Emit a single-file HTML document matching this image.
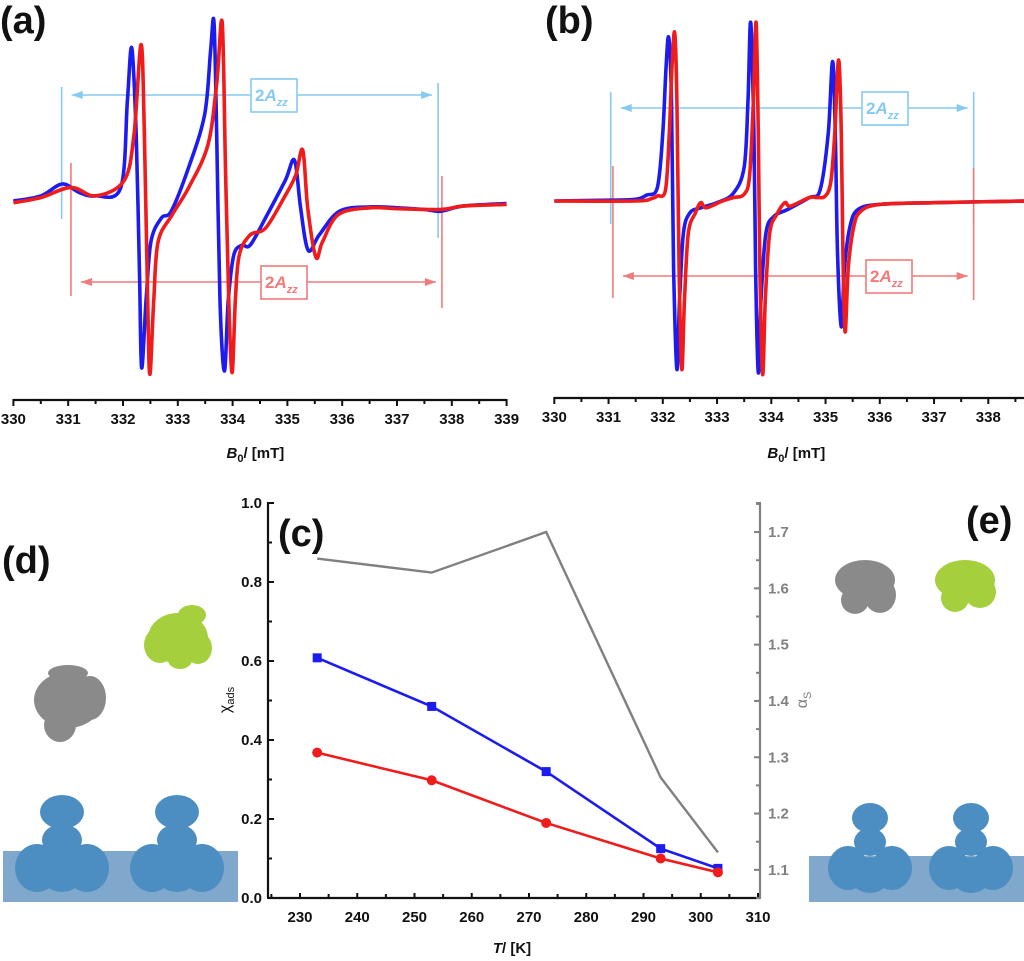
<!DOCTYPE html>
<html><head><meta charset="utf-8">
<style>
html,body{margin:0;padding:0;background:#fff;}
svg{display:block;font-family:"Liberation Sans",Arial,sans-serif;}
.tl{font-size:15px;font-weight:bold;fill:#111;}
.pl{font-size:38px;font-weight:bold;fill:#111;}
</style></head>
<body>
<svg id="fig" width="1024" height="961" viewBox="0 0 1024 961" xmlns="http://www.w3.org/2000/svg">
<g id="panelA"></g>
<g id="panelB"></g>
<g id="panelC"></g>
<g id="panelD">
  <text class="pl" x="2" y="573">(d)</text>
  <g fill="#a5cf3c">
    <ellipse cx="178" cy="638" rx="30" ry="25"/><ellipse cx="160" cy="645" rx="16" ry="18"/><ellipse cx="198" cy="648" rx="14" ry="16"/><ellipse cx="192" cy="615" rx="14" ry="10"/><ellipse cx="180" cy="660" rx="12" ry="9"/>
  </g>
  <g fill="#8a8a8a">
    <ellipse cx="68" cy="700" rx="34" ry="28"/><ellipse cx="60" cy="725" rx="16" ry="17"/><ellipse cx="90" cy="698" rx="16" ry="22"/><ellipse cx="68" cy="673" rx="20" ry="8"/>
  </g>
  <rect x="3" y="851" width="235" height="51" fill="#7fa8cc"/>
  <g fill="#4d8ec2">
    <ellipse cx="62" cy="812" rx="22" ry="17"/><ellipse cx="62" cy="840" rx="20" ry="16"/><ellipse cx="37" cy="868" rx="22" ry="24"/><ellipse cx="87" cy="868" rx="22" ry="24"/><ellipse cx="62" cy="872" rx="22" ry="20"/>
    <ellipse cx="177" cy="812" rx="22" ry="17"/><ellipse cx="177" cy="840" rx="20" ry="16"/><ellipse cx="152" cy="868" rx="22" ry="24"/><ellipse cx="202" cy="868" rx="22" ry="24"/><ellipse cx="177" cy="872" rx="22" ry="20"/>
  </g>
</g>
<g id="panelE">
  <text class="pl" x="966" y="533">(e)</text>
  <g fill="#8a8a8a">
    <ellipse cx="865" cy="580" rx="30" ry="20"/><ellipse cx="855" cy="600" rx="14" ry="14"/><ellipse cx="880" cy="595" rx="16" ry="18"/>
  </g>
  <g fill="#a5cf3c">
    <ellipse cx="965" cy="580" rx="30" ry="20"/><ellipse cx="955" cy="598" rx="14" ry="14"/><ellipse cx="980" cy="592" rx="16" ry="16"/>
  </g>
  <rect x="809" y="856" width="215" height="46" fill="#7fa8cc"/>
  <g fill="#4d8ec2">
    <ellipse cx="870" cy="818" rx="18" ry="15"/><ellipse cx="870" cy="842" rx="16" ry="14"/><ellipse cx="848" cy="868" rx="20" ry="22"/><ellipse cx="892" cy="868" rx="20" ry="22"/><ellipse cx="870" cy="875" rx="20" ry="18"/>
    <ellipse cx="971" cy="818" rx="18" ry="15"/><ellipse cx="971" cy="842" rx="16" ry="14"/><ellipse cx="949" cy="868" rx="20" ry="22"/><ellipse cx="993" cy="868" rx="20" ry="22"/><ellipse cx="971" cy="875" rx="20" ry="18"/>
  </g>
</g>
</svg>
<script>
// ---- Panel (a) spectra data: field (mT) and intensity (a.u.) ----
const aBlueB = [330,330.5,330.89,331.2,331.5,331.96,332.08,332.16,332.24,332.3,332.34,332.42,332.51,332.7,332.88,333.19,333.49,333.6,333.66,333.71,333.77,333.85,333.92,334.02,334.17,334.32,334.6,334.96,335.13,335.24,335.38,335.58,335.95,336.5,337,337.5,337.8,338.2,339];
const aBlueI = [0,3,10,5,3,8,59,90,39,-40,-98,-59,-24,-10,-6,19,51,89,105,39,-59,-100,-59,-32,-26,-26,-10,12,24,-4,-29,-20,-6,-3.5,-4,-5,-6,-3,-1.5];
const aRedB = [330,330.5,331.05,331.5,332.02,332.2,332.33,332.39,332.45,332.49,332.56,332.64,332.9,333.2,333.55,333.71,333.81,333.87,333.93,333.99,334.05,334.12,334.32,334.6,334.94,335.15,335.28,335.37,335.52,335.64,335.93,336.5,337,337.8,338.2,339];
const aRedI = [-1,2,8,3,12,39,92,39,-59,-102,-59,-24,-8,8,33,69,105,19,-59,-101,-59,-32,-20,-16,2,15,30,-4,-33,-24,-8,-4,-4.5,-5,-3,-2];
// ---- Panel (b) spectra data ----
const bBlueB = [330,331,331.5,331.7,331.9,332,332.06,332.11,332.16,332.2,332.26,332.31,332.38,332.5,332.7,333,333.3,333.5,333.57,333.62,333.68,333.71,333.76,333.81,333.9,334.05,334.3,334.7,334.9,335.05,335.13,335.18,335.22,335.29,335.35,335.45,335.6,336,337,338.7];
const bBlueI = [0,0.5,1,3.5,8,40,79,96,59,-40,-99,-58,-19,-7,-4,-1,4.5,20,59,105,40,-40,-101,-58,-19,-9,-5,2,6.5,40,82,40,-30,-74,-39,-15,-5,-2,-1,0];
const bRedB = [330,331.5,331.8,331.9,332.05,332.12,332.17,332.22,332.26,332.3,332.35,332.4,332.47,332.6,332.7,332.8,333.1,333.3,333.5,333.6,333.67,333.72,333.76,333.79,333.84,333.89,333.97,334.1,334.25,334.35,334.7,334.85,335,335.1,335.17,335.24,335.29,335.32,335.36,335.42,335.52,335.65,336,337,338.7];
const bRedI = [0,0,1.5,3,6.5,40,79,99,59,-40,-99,-58,-19,-7,-1,-4,0,2,4,15,59,105,40,-40,-102,-58,-19,-8,-1,-3,2,2,3,12,40,83,40,-30,-77,-39,-15,-6,-2,-1,0];
const aTicks = [330,331,332,333,334,335,336,337,338,339];
const bTicks = [330,331,332,333,334,335,336,337,338];
// ---- Panel (c) data ----
const temps = [233,253,273,293,303];
const chiBlue = [0.608,0.485,0.32,0.125,0.075];
const chiRed = [0.368,0.298,0.19,0.1,0.065];
const alphaS = [1.653,1.628,1.70,1.264,1.131];
const xTicksC = [230,240,250,260,270,280,290,300,310];
const yTicksC = [0.0,0.2,0.4,0.6,0.8,1.0];
const yTicksR = [1.1,1.2,1.3,1.4,1.5,1.6,1.7];

const NS="http://www.w3.org/2000/svg";
function mk(parent,tag,attrs,text){const e=document.createElementNS(NS,tag);for(const k in attrs)e.setAttribute(k,attrs[k]);if(text!==undefined)e.textContent=text;parent.appendChild(e);return e;}
function smoothPath(pts){
  let d="M"+pts[0][0].toFixed(1)+","+pts[0][1].toFixed(1);
  for(let i=0;i<pts.length-1;i++){
    const p0=pts[Math.max(0,i-1)],p1=pts[i],p2=pts[i+1],p3=pts[Math.min(pts.length-1,i+2)];
    const c1=[p1[0]+(p2[0]-p0[0])/6,p1[1]+(p2[1]-p0[1])/6];
    const c2=[p2[0]-(p3[0]-p1[0])/6,p2[1]-(p3[1]-p1[1])/6];
    d+=" C"+c1[0].toFixed(1)+","+c1[1].toFixed(1)+" "+c2[0].toFixed(1)+","+c2[1].toFixed(1)+" "+p2[0].toFixed(1)+","+p2[1].toFixed(1);
  }
  return d;
}
const lblue="#86c9f2", lred="#f27a7a";

function spectrumPanel(g,x0,pxPerMT,axisY,axisEnd,ticks,series,ann,label,labelX){
  const xs=B=>x0+(B-330)*pxPerMT;
  const ys=I=>201-I*1.7;
  // axis
  const ax=mk(g,"line",{x1:x0,y1:axisY,x2:axisEnd,y2:axisY,stroke:"#111","stroke-width":2.2});
  
  
  for(let i=0;i<ticks.length;i++){
    const t=ticks[i];
    const tk=mk(g,"line",{x1:xs(t),y1:axisY-1,x2:xs(t),y2:axisY+6,stroke:"#111","stroke-width":2});
    
    
    const tx=mk(g,"text",{x:xs(t),y:axisY+24,"text-anchor":"middle",class:"tl"},String(t));
    
    
    if(xs(t+0.5)<axisEnd){
      const mt=mk(g,"line",{x1:xs(t+0.5),y1:axisY-1,x2:xs(t+0.5),y2:axisY+4,stroke:"#111","stroke-width":2});
      
      
    }
  }
  const xt=mk(g,"text",{x:(x0+ (labelX||0)),y:458,"text-anchor":"middle",class:"tl","font-size":"16"});
  xt.innerHTML='<tspan font-style="italic">B</tspan><tspan font-size="11" dy="4">0</tspan><tspan dy="-4">/ [mT]</tspan>';
  
  
  // annotations
  ann.forEach(a=>{
    const ag=mk(g,"g",{});
    
    
    mk(ag,"line",{x1:xs(a.b1),y1:a.v1[0],x2:xs(a.b1),y2:a.v1[1],stroke:a.c,"stroke-width":1.6});
    mk(ag,"line",{x1:xs(a.b2),y1:a.v2[0],x2:xs(a.b2),y2:a.v2[1],stroke:a.c,"stroke-width":1.6});
    const l=xs(a.b1)+10,r=xs(a.b2)-6;
    mk(ag,"line",{x1:l,y1:a.y,x2:r,y2:a.y,stroke:a.c,"stroke-width":1.6});
    mk(ag,"path",{d:`M${l},${a.y} l11,-4 l0,8 z`,fill:a.c});
    mk(ag,"path",{d:`M${r},${a.y} l-11,-4 l0,8 z`,fill:a.c});
    mk(ag,"rect",{x:a.bx,y:a.y-16,width:46,height:33,fill:"#fff",stroke:a.c,"stroke-width":1.6});
    const t=mk(ag,"text",{x:a.bx+4,y:a.y+6,fill:a.c,"font-size":"17","font-weight":"bold"});
    t.innerHTML='2<tspan font-style="italic">A</tspan><tspan font-style="italic" font-size="11" dy="5">zz</tspan>';
  });
  // spectra
  series.forEach(s=>{
    const pts=s.B.map((b,i)=>[xs(b),ys(s.I[i])]);
    const p=mk(g,"path",{d:smoothPath(pts),fill:"none",stroke:s.c,"stroke-width":3.6,"stroke-linejoin":"round"});
    
    
  });
  const pl=mk(g,"text",{x:label[1],y:33,class:"pl"},label[0]);
  
  
}

spectrumPanel(document.getElementById("panelA"),13.4,54.8,400,506,aTicks,
 [{B:aBlueB,I:aBlueI,c:"#1c1cf0",name:"spectrum-blue"},{B:aRedB,I:aRedI,c:"#f01c1c",name:"spectrum-red"}],
 [{name:"2azz-blue-annotation",b1:330.88,b2:337.75,v1:[87,219],v2:[83,238],y:95,bx:251,c:lblue},
  {name:"2azz-red-annotation",b1:331.05,b2:337.82,v1:[163,296],v2:[176,308],y:282,bx:261,c:lred}],
 ["(a)",0],242);
spectrumPanel(document.getElementById("panelB"),554.3,54.25,398,1024,bTicks,
 [{B:bBlueB,I:bBlueI,c:"#1c1cf0",name:"spectrum-blue"},{B:bRedB,I:bRedI,c:"#f01c1c",name:"spectrum-red"}],
 [{name:"2azz-blue-annotation",b1:331.04,b2:337.73,v1:[92,224],v2:[92,224],y:108,bx:862,c:lblue},
  {name:"2azz-red-annotation",b1:331.08,b2:337.73,v1:[166,298],v2:[168,300],y:276,bx:866,c:lred}],
 ["(b)",545],242);

// ---- Panel (c) ----
(function(){
  const g=document.getElementById("panelC");
  const xc=T=>300+(T-230)*5.725;
  const yc=v=>898-v*395;
  const yr=a=>898-(a-1.05)*563;
  const L=268,R=760,B=898,T=503;
  const ax=mk(g,"line",{x1:L,y1:B,x2:R,y2:B,stroke:"#111","stroke-width":2.2});
  
  
  const ay=mk(g,"line",{x1:L,y1:T,x2:L,y2:B,stroke:"#111","stroke-width":2.2});
  
  
  const ar=mk(g,"line",{x1:R,y1:T,x2:R,y2:B,stroke:"#808080","stroke-width":2.2});
  
  
  mk(g,"line",{x1:R-4,y1:T,x2:R+1,y2:T,stroke:"#808080","stroke-width":2});
  xTicksC.forEach(t=>{
    mk(g,"line",{x1:xc(t),y1:B-5,x2:xc(t),y2:B+1,stroke:"#111","stroke-width":2});
    if(t<310) mk(g,"line",{x1:xc(t+5),y1:B-4,x2:xc(t+5),y2:B+1,stroke:"#111","stroke-width":2});
    const tx=mk(g,"text",{x:xc(t),y:B+24,"text-anchor":"middle",class:"tl"},String(t));
    
    
  });
  mk(g,"line",{x1:xc(225),y1:B-4,x2:xc(225),y2:B+1,stroke:"#111","stroke-width":2});
  yTicksC.forEach(v=>{
    mk(g,"line",{x1:L-1,y1:yc(v),x2:L+6,y2:yc(v),stroke:"#111","stroke-width":2});
    if(v<1) mk(g,"line",{x1:L-1,y1:yc(v+0.1),x2:L+4,y2:yc(v+0.1),stroke:"#111","stroke-width":2});
    const tx=mk(g,"text",{x:L-6,y:yc(v)+5,"text-anchor":"end",class:"tl"},v.toFixed(1));
    
    
  });
  yTicksR.forEach(v=>{
    mk(g,"line",{x1:R-6,y1:yr(v),x2:R+1,y2:yr(v),stroke:"#808080","stroke-width":2});
    mk(g,"line",{x1:R-4,y1:yr(v-0.05),x2:R+1,y2:yr(v-0.05),stroke:"#808080","stroke-width":2});
    const tx=mk(g,"text",{x:R+8,y:yr(v)+5,fill:"#808080","font-size":"15","font-weight":"bold"},v.toFixed(1));
    
    
  });
  mk(g,"line",{x1:R-4,y1:yr(1.75),x2:R+1,y2:yr(1.75),stroke:"#808080","stroke-width":2});
  const gl=mk(g,"polyline",{points:temps.map((t,i)=>xc(t)+","+yr(alphaS[i])).join(" "),fill:"none",stroke:"#808080","stroke-width":2.4});
  
  
  const bl=mk(g,"polyline",{points:temps.map((t,i)=>xc(t)+","+yc(chiBlue[i])).join(" "),fill:"none",stroke:"#1c1cf0","stroke-width":2.6});
  
  
  const rl=mk(g,"polyline",{points:temps.map((t,i)=>xc(t)+","+yc(chiRed[i])).join(" "),fill:"none",stroke:"#f01c1c","stroke-width":2.6});
  
  
  temps.forEach((t,i)=>{
    const s=mk(g,"rect",{x:xc(t)-4.5,y:yc(chiBlue[i])-4.5,width:9,height:9,fill:"#1c1cf0"});
    
    
    const c=mk(g,"circle",{cx:xc(t),cy:yc(chiRed[i]),r:5,fill:"#f01c1c"});
    
    
  });
  const lab=mk(g,"text",{x:278,y:546,class:"pl"},"(c)");
  
  
  const xt=mk(g,"text",{x:512,y:953,"text-anchor":"middle",class:"tl","font-size":"16"});
  xt.innerHTML='<tspan font-style="italic">T</tspan>/ [K]';
  
  
  const yt=mk(g,"text",{x:0,y:0,transform:"translate(230,700) rotate(-90)","text-anchor":"middle","font-size":"16",fill:"#111"});
  yt.innerHTML='χ<tspan font-size="11" dy="4">ads</tspan>';
  
  
  const yt2=mk(g,"text",{x:0,y:0,transform:"translate(807,700) rotate(-90)","text-anchor":"middle","font-size":"16",fill:"#808080"});
  yt2.innerHTML='α<tspan font-size="11" dy="4">S</tspan>';
  
  
})();
</script>
</body></html>
